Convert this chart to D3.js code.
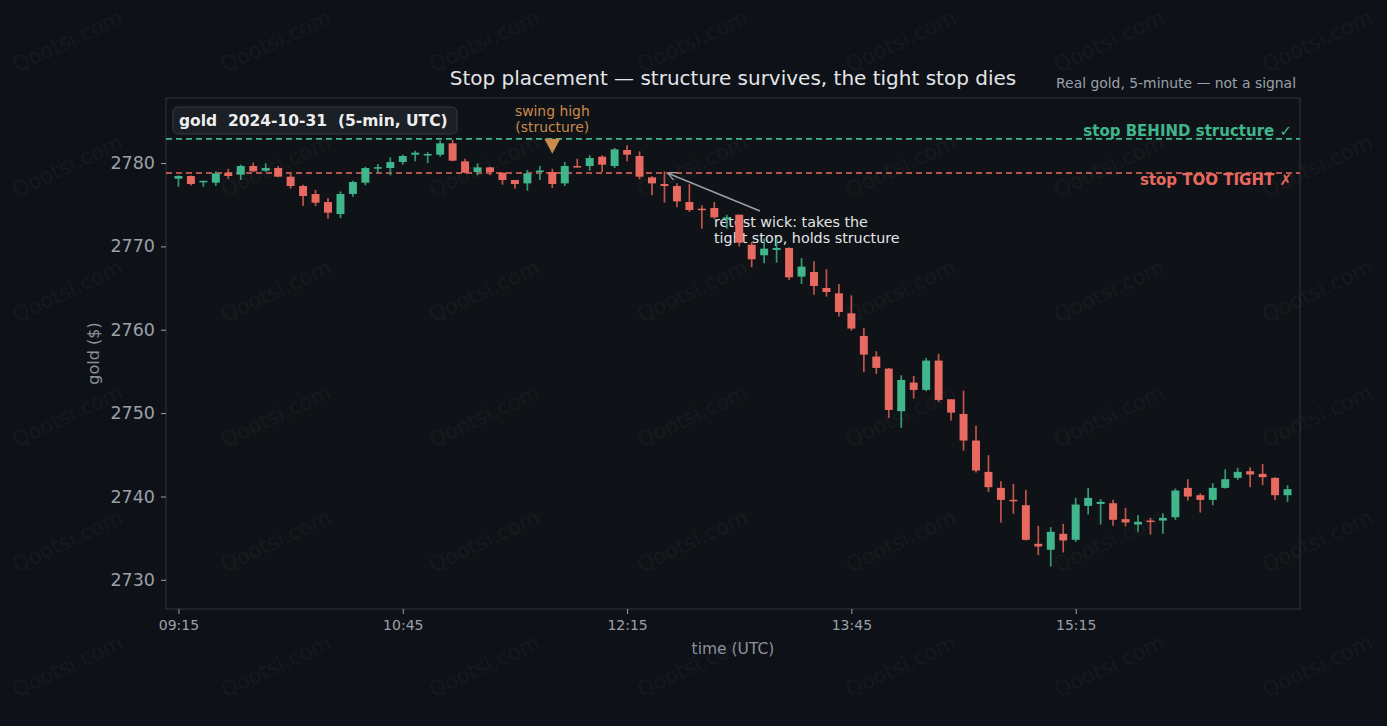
<!DOCTYPE html>
<html><head><meta charset="utf-8">
<script src="https://cdn.jsdelivr.net/npm/d3@7"></script>
<style>html,body{margin:0;padding:0;background:#0e1117;} svg{display:block;}</style>
</head><body>
<script>
// ---- data (gold, 2024-10-31, 5-min candles starting 09:15 UTC) ----
const openPx = [2778.12,2778.44,2777.82,2777.64,2778.84,2778.60,2779.64,2779.08,2779.40,2778.36,
2777.24,2776.28,2775.32,2773.88,2776.28,2777.64,2779.44,2779.40,2780.12,2781.00,
2781.00,2781.00,2782.36,2780.20,2778.92,2779.48,2778.84,2777.96,2777.56,2779.00,
2778.92,2777.56,2779.64,2779.64,2780.76,2779.64,2781.56,2780.84,2778.28,2777.48,
2777.24,2775.32,2774.52,2774.60,2773.25,2773.80,2770.20,2768.93,2769.57,2769.81,
2766.37,2766.93,2765.01,2764.37,2761.97,2759.26,2756.78,2755.34,2750.23,2753.66,
2752.78,2756.30,2751.66,2749.90,2746.71,2742.95,2741.03,2739.60,2738.95,2734.32,
2733.60,2735.52,2734.80,2738.87,2739.10,2739.19,2737.28,2736.64,2737.11,2737.11,
2737.51,2741.03,2740.15,2739.59,2741.03,2742.23,2743.03,2742.71,2742.23,2740.15];
const highPx = [2778.52,2778.50,2777.88,2779.00,2779.30,2779.80,2780.04,2779.96,2779.64,2778.76,
2777.40,2776.76,2775.80,2776.60,2777.88,2779.56,2779.88,2780.68,2781.00,2781.48,
2781.30,2782.68,2782.76,2780.52,2779.96,2779.56,2778.84,2777.96,2779.16,2779.64,
2779.32,2780.12,2780.52,2780.92,2780.92,2781.80,2782.12,2781.40,2778.40,2779.00,
2777.56,2777.48,2774.92,2775.32,2773.80,2773.80,2770.53,2770.93,2770.93,2769.89,
2768.61,2768.21,2767.25,2765.49,2764.13,2760.22,2757.42,2755.42,2754.54,2754.46,
2756.62,2757.10,2751.66,2752.70,2748.47,2744.95,2741.83,2741.51,2740.79,2736.48,
2736.32,2736.72,2739.83,2741.03,2739.67,2739.60,2738.63,2737.76,2737.43,2737.99,
2740.95,2742.07,2740.39,2741.59,2743.27,2743.43,2743.51,2743.91,2742.31,2741.35];
const lowPx = [2777.16,2777.30,2777.16,2777.24,2778.10,2777.96,2778.92,2778.92,2778.28,2776.92,
2774.84,2774.84,2773.32,2773.40,2775.96,2777.32,2778.76,2778.52,2779.80,2780.20,
2780.00,2780.76,2780.20,2778.76,2778.52,2778.52,2777.40,2776.92,2776.68,2777.96,
2777.00,2777.24,2779.48,2779.08,2778.92,2779.40,2780.20,2778.04,2776.12,2775.25,
2774.68,2774.12,2772.12,2773.30,2772.12,2769.97,2767.49,2767.97,2768.05,2765.97,
2765.49,2764.21,2763.97,2761.58,2759.90,2754.94,2754.70,2749.43,2748.23,2751.74,
2752.62,2751.34,2749.10,2745.51,2742.87,2740.55,2736.88,2737.92,2734.72,2732.96,
2731.60,2733.28,2734.56,2737.84,2736.64,2736.48,2736.40,2735.76,2735.44,2735.52,
2737.20,2739.51,2738.07,2738.95,2740.95,2741.99,2741.11,2741.35,2739.59,2739.35];
const closePx = [2778.44,2777.48,2777.86,2778.76,2778.44,2779.64,2779.00,2779.40,2778.36,2777.24,
2776.04,2775.24,2774.04,2776.28,2777.72,2779.40,2779.50,2780.12,2780.84,2781.24,
2781.08,2782.36,2780.28,2778.84,2779.48,2778.92,2777.96,2777.48,2778.76,2779.10,
2777.48,2779.64,2779.48,2780.60,2779.80,2781.64,2781.00,2778.36,2777.56,2777.24,
2775.40,2774.36,2774.40,2773.48,2773.48,2770.45,2768.45,2769.73,2769.81,2766.29,
2767.57,2765.25,2764.53,2762.13,2760.14,2757.02,2755.42,2750.38,2753.98,2752.78,
2756.30,2751.58,2750.06,2746.71,2743.11,2741.11,2739.59,2739.50,2734.80,2734.00,
2735.76,2734.72,2739.03,2739.83,2739.35,2737.20,2736.88,2736.96,2736.95,2737.43,
2740.71,2739.99,2739.59,2741.03,2742.07,2742.95,2742.63,2742.31,2740.15,2740.87];

const tickIndex = [0, 18, 36, 54, 72];
const tickLabels = ["09:15", "10:45", "12:15", "13:45", "15:15"];
const yTicks = [2730, 2740, 2750, 2760, 2770, 2780];
const structureStop = 2782.9;
const tightStop = 2778.8;
const swingHighIndex = 30;
const retestIndex = 39;

// ---- layout ----
const W = 1387, H = 726;
const L = 166, R = 1300, T = 98, B = 609;
const FONT = "'DejaVu Sans', sans-serif";
const GREEN = "#3fb68b", GREEN_W = "#35996f", RED = "#e8695f", RED_W = "#c0544b";
const ORANGE = "#c98a4b";

const svg = d3.select("body").append("svg").attr("width", W).attr("height", H)
  .style("background", "#0e1117").style("font-family", FONT);

const x = d3.scaleLinear().domain([-1, openPx.length]).range([L, R]);
const y = d3.scaleLinear().domain([2726.5, 2787.8]).range([B, T]);
const step = x(1) - x(0);
const bw = step * 0.64;

// plot background + frame
svg.append("rect").attr("x", L).attr("y", T).attr("width", R - L).attr("height", B - T)
  .attr("fill", "#0f1217").attr("stroke", "#30353d").attr("stroke-width", 1);

// axes
const yAxis = svg.append("g").attr("transform", `translate(${L},0)`)
  .call(d3.axisLeft(y).tickValues(yTicks).tickSize(5).tickPadding(6).tickFormat(d3.format("d")));
yAxis.select(".domain").remove();
yAxis.selectAll("line").attr("stroke", "#9ba1a9");
yAxis.selectAll("text").attr("fill", "#9ba1a9").style("font-size", "17.5px").style("font-family", FONT);

const xAxis = svg.append("g").attr("transform", `translate(0,${B})`)
  .call(d3.axisBottom(x).tickValues(tickIndex).tickSize(5).tickPadding(6).tickFormat((d, i) => tickLabels[i]));
xAxis.select(".domain").remove();
xAxis.selectAll("line").attr("stroke", "#9ba1a9");
xAxis.selectAll("text").attr("fill", "#9ba1a9").style("font-size", "14px").style("font-family", FONT);

// axis labels
svg.append("text").attr("x", (L + R) / 2).attr("y", 654).attr("text-anchor", "middle")
  .attr("fill", "#8b9199").style("font-size", "15.5px").text("time (UTC)");
svg.append("text").attr("transform", `translate(99,${(T + B) / 2}) rotate(-90)`).attr("text-anchor", "middle")
  .attr("fill", "#8b9199").style("font-size", "16px").text("gold ($)");

// title & subtitle
svg.append("text").attr("x", (L + R) / 2).attr("y", 85).attr("text-anchor", "middle")
  .attr("fill", "#e3e5e8").style("font-size", "20px").text("Stop placement — structure survives, the tight stop dies");
svg.append("text").attr("x", 1296).attr("y", 88).attr("text-anchor", "end")
  .attr("fill", "#9ba1a9").style("font-size", "13.9px").text("Real gold, 5-minute — not a signal");

// annotation text (beneath candles)
const ann = svg.append("text").attr("fill", "#e3e5e8").style("font-size", "14.3px");
ann.append("tspan").attr("x", 714).attr("y", 227).text("retest wick: takes the");
ann.append("tspan").attr("x", 714).attr("y", 243).text("tight stop, holds structure");

// stop labels
svg.append("text").attr("x", 1292).attr("y", 136).attr("text-anchor", "end")
  .attr("fill", GREEN).style("font-size", "15px").style("font-weight", "bold").text("stop BEHIND structure ✓");
svg.append("text").attr("x", 1292).attr("y", 185).attr("text-anchor", "end")
  .attr("fill", RED).style("font-size", "15px").style("font-weight", "bold").text("stop TOO TIGHT ✗");

// stop lines
svg.append("line").attr("x1", L).attr("x2", R).attr("y1", y(structureStop)).attr("y2", y(structureStop))
  .attr("stroke", GREEN).attr("stroke-width", 1.6).attr("stroke-dasharray", "6,4");
svg.append("line").attr("x1", L).attr("x2", R).attr("y1", y(tightStop)).attr("y2", y(tightStop))
  .attr("stroke", RED).attr("stroke-width", 1.6).attr("stroke-dasharray", "6,4");

// candles
const idx = d3.range(openPx.length);
const g = svg.append("g");
g.selectAll("line.wick").data(idx).join("line")
  .attr("x1", i => x(i)).attr("x2", i => x(i))
  .attr("y1", i => y(highPx[i])).attr("y2", i => y(lowPx[i]))
  .attr("stroke", i => closePx[i] >= openPx[i] ? GREEN_W : RED_W).attr("stroke-width", 1.7);
g.selectAll("rect.body").data(idx).join("rect")
  .attr("x", i => x(i) - bw / 2).attr("width", bw)
  .attr("y", i => y(Math.max(openPx[i], closePx[i])))
  .attr("height", i => Math.max(1.5, Math.abs(y(openPx[i]) - y(closePx[i]))))
  .attr("fill", i => closePx[i] >= openPx[i] ? GREEN : RED);

// swing high marker
const sx = x(swingHighIndex);
svg.append("path")
  .attr("d", `M${sx - 8},${y(structureStop)} L${sx + 8},${y(structureStop)} L${sx},${y(structureStop) + 15} Z`)
  .attr("fill", ORANGE);
const sh = svg.append("text").attr("text-anchor", "middle").attr("fill", ORANGE).style("font-size", "13.9px");
sh.append("tspan").attr("x", sx).attr("y", 116).text("swing high");
sh.append("tspan").attr("x", sx).attr("y", 132).text("(structure)");

// arrow to retest wick
svg.append("defs").append("marker").attr("id", "arr").attr("viewBox", "0 0 10 10")
  .attr("refX", 9).attr("refY", 5).attr("markerWidth", 9).attr("markerHeight", 9)
  .attr("orient", "auto-start-reverse").attr("markerUnits", "userSpaceOnUse")
  .append("path").attr("d", "M0,0 L10,5 L0,10").attr("fill", "none").attr("stroke", "#9aa0aa").attr("stroke-width", 1.5);
svg.append("line").attr("x1", 760).attr("y1", 211).attr("x2", x(retestIndex) + 4).attr("y2", y(tightStop) + 0.5)
  .attr("stroke", "#9aa0aa").attr("stroke-width", 1.5).attr("marker-end", "url(#arr)");

// label box
svg.append("rect").attr("x", 173).attr("y", 107).attr("width", 284).attr("height", 27).attr("rx", 5)
  .attr("fill", "#1b1f26").attr("stroke", "#353a42").attr("stroke-width", 1);
svg.append("text").attr("x", 179).attr("y", 126).attr("fill", "#eeeeee")
  .style("font-size", "15.5px").style("font-weight", "bold").attr("xml:space", "preserve")
  .style("white-space", "pre").text("gold  2024-10-31  (5-min, UTC)");

// watermark
const wm = svg.append("g").attr("pointer-events", "none");
for (let r = 0; r < 6; r++) {
  for (let c = 0; c < 7; c++) {
    const cx = 68 + c * 208.3, cy = 42 + r * 125;
    wm.append("text").attr("transform", `translate(${cx},${cy}) rotate(-25)`)
      .attr("text-anchor", "middle").attr("dominant-baseline", "middle")
      .attr("fill", "rgba(255,255,255,0.05)").style("font-size", "21px").text("Qootsi.com");
  }
}
</script>
</body></html>
